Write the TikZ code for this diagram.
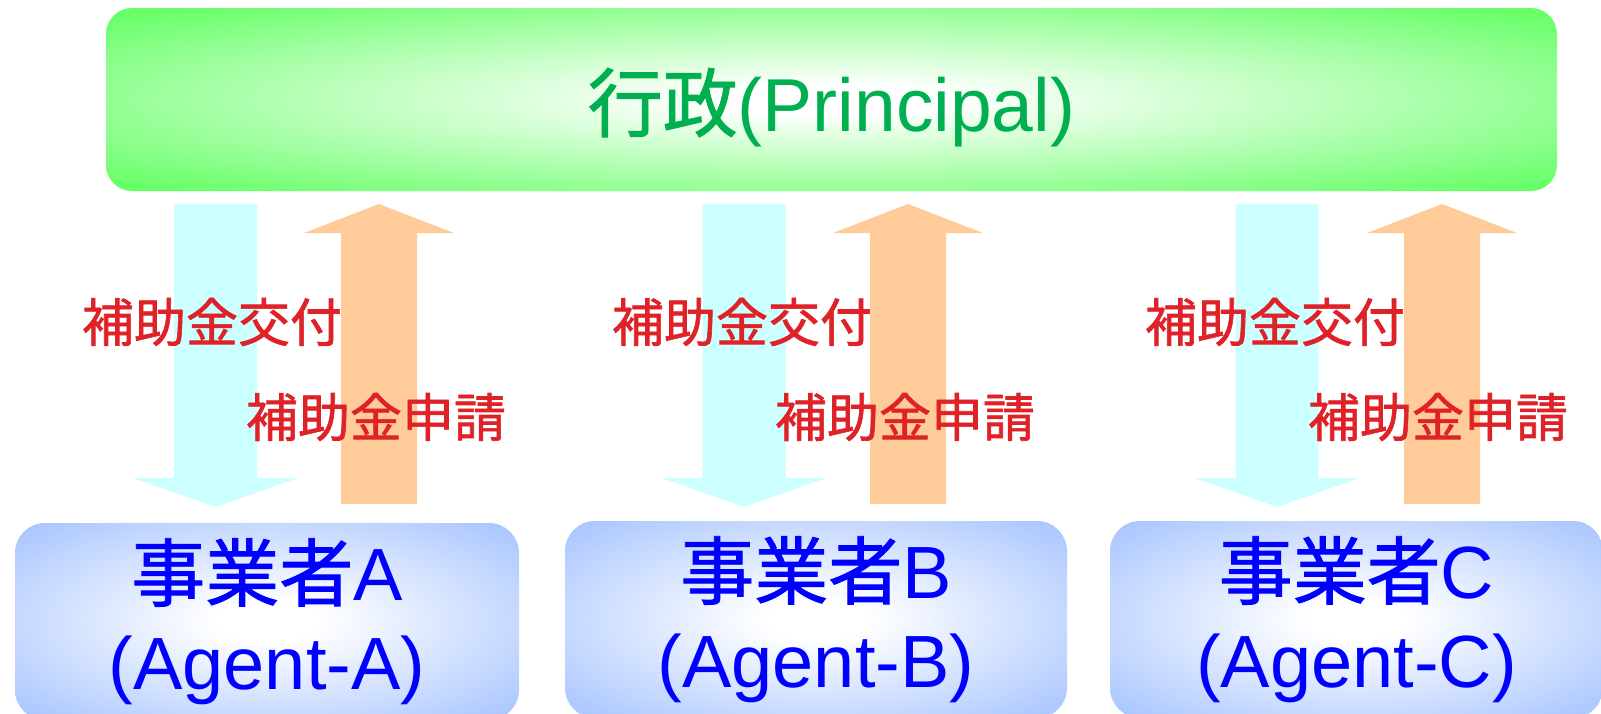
\documentclass[tikz,border=0pt]{standalone}
\usepackage{fontspec}
\setmainfont{Liberation Sans}
\newfontfamily\jpfont{Noto Sans CJK JP}[FakeBold=1.2]
\usepackage{xcolor}
\usetikzlibrary{positioning}

\definecolor{govgreen}{RGB}{102,255,102}
\definecolor{govtext}{RGB}{0,176,80}
\definecolor{agentblue}{RGB}{164,194,255}
\definecolor{flowred}{RGB}{222,34,40}
\definecolor{grantcyan}{RGB}{204,255,255}
\definecolor{applyorange}{RGB}{255,204,153}
\pgfdeclareradialshading{govshade}{\pgfpointorigin}{color(0bp)=(white); color(4bp)=(white); color(34bp)=(govgreen); color(50bp)=(govgreen)}
\pgfdeclareradialshading{agentshade}{\pgfpointorigin}{color(0bp)=(white); color(5bp)=(white); color(36bp)=(agentblue); color(50bp)=(agentblue)}

\begin{document}
\begin{tikzpicture}[x=1pt, y=-1pt,
      govbox/.style={rounded corners=26pt, minimum width=1451pt, minimum height=183pt, shading=govshade, text=govtext, text height=76pt, text depth=13pt, font=\fontsize{75}{80}\selectfont},
      agentbox/.style={rounded corners=30pt, minimum height=197pt, shading=agentshade, text=blue, align=center, font=\fontsize{74}{89}\selectfont},
      grantarr/.style={fill=grantcyan},
      applyarr/.style={fill=applyorange},
      lbl/.style={text=flowred, font=\jpfont\fontsize{52}{56}\selectfont, inner sep=0pt},
    ]
    \clip (0,0) rectangle (1601,713);

    % Principal
    \node[govbox] (gov) at (831.5,99.5) {{\jpfont 行政}(Principal)};

    % Block arrows
    \fill[grantarr] (174,204) -- (257,204) -- (257,478) -- (298,478) -- (215.5,507) -- (133,478) -- (174,478) -- cycle;
    \fill[applyarr] (341,504) -- (417,504) -- (417,233) -- (454,233) -- (379,204) -- (304,233) -- (341,233) -- cycle;
    \fill[grantarr] (702.5,204) -- (785.5,204) -- (785.5,478) -- (826.5,478) -- (744,507) -- (661.5,478) -- (702.5,478) -- cycle;
    \fill[applyarr] (870,504) -- (946,504) -- (946,233) -- (983,233) -- (908,204) -- (833,233) -- (870,233) -- cycle;
    \fill[grantarr] (1235.5,204) -- (1318.5,204) -- (1318.5,478) -- (1359.5,478) -- (1277,507) -- (1194.5,478) -- (1235.5,478) -- cycle;
    \fill[applyarr] (1404,504) -- (1480,504) -- (1480,233) -- (1517,233) -- (1442,204) -- (1367,233) -- (1404,233) -- cycle;

    % Agents
    \node[agentbox, minimum width=504pt] (agentA) at (267,621.5) {{\jpfont 事業者}A\\(Agent-A)};
    \node[agentbox, minimum width=502pt] (agentB) at (816,619.5) {{\jpfont 事業者}B\\(Agent-B)};
    \node[agentbox, minimum width=493pt] (agentC) at (1356.5,619.5) {{\jpfont 事業者}C\\(Agent-C)};

    % Labels
    \node[lbl] (grantA) at (212,322) {補助金交付};
    \node[lbl] (applyA) at (376,417) {補助金申請};
    \node[lbl] (grantB) at (742,322) {補助金交付};
    \node[lbl] (applyB) at (905,417) {補助金申請};
    \node[lbl] (grantC) at (1275,322) {補助金交付};
    \node[lbl] (applyC) at (1438,417) {補助金申請};
  \end{tikzpicture}
\end{document}
